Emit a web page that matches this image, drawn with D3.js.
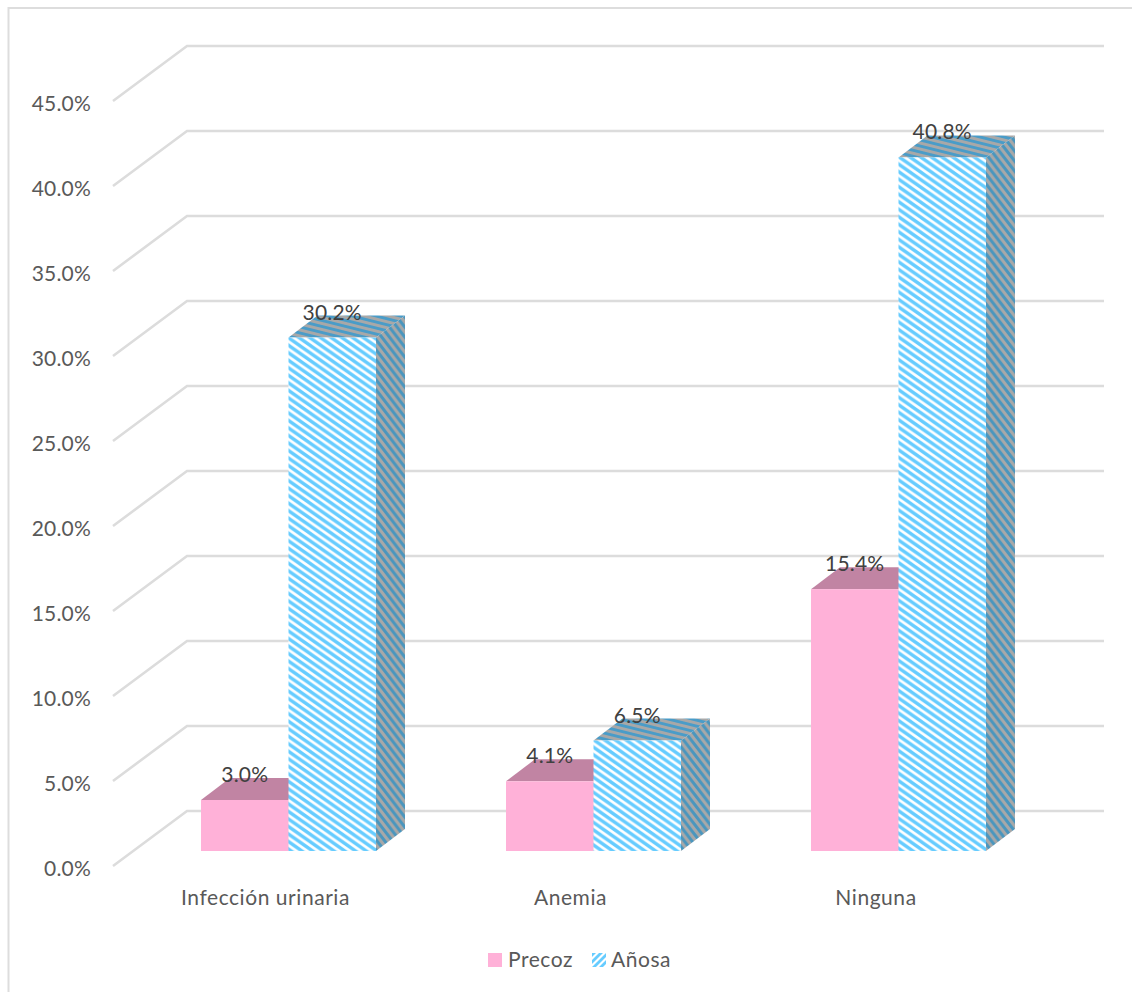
<!DOCTYPE html>
<html><head><meta charset="utf-8">
<script src="https://cdn.jsdelivr.net/npm/d3@7"></script>
<style>html,body{margin:0;padding:0;background:#fff}svg{display:block}text{font-family:Lato,sans-serif}</style>
</head><body><div id="c"></div>
<script>
const categories = ["Infección urinaria","Anemia","Ninguna"];
const seriesNames = ["Precoz","Añosa"];
const precoz = [3.0,4.1,15.4];
const anosa = [30.2,6.5,40.8];
const tickValues = [0,5,10,15,20,25,30,35,40,45];

const W=1132,H=992, depthX=29, depthY=22;
const svg=d3.select("#c").append("svg").attr("width",W).attr("height",H);
const defs=svg.append("defs");
function stripe(id,bg,fg,w,sw,tf){
  const p=defs.append("pattern").attr("id",id).attr("patternUnits","userSpaceOnUse")
    .attr("width",w).attr("height",w).attr("patternTransform",tf||null);
  p.append("rect").attr("width",w).attr("height",w).attr("fill",bg);
  p.append("path").attr("d",`M-2,2L2,-2M0,${w}L${w},0M${w-2},${w+2}L${w+2},${w-2}`)
    .attr("stroke",fg).attr("stroke-width",sw).attr("fill","none");
}
stripe("front","#fff","#66CCFF",8,3.1,"matrix(-1.34,0,0,0.94,0,0)");
stripe("legend","#fff","#66CCFF",7,2.8);
stripe("side","#A8A8A8","#4A96BE",8,2.8,"matrix(-0.96,0,0,1.25,0,0)");
stripe("top","#A8A8A8","#4A9CC8",8,2.8,"matrix(-3,0,0,0.75,0,0)");

svg.append("path").attr("d","M8.5,992V8H1132").attr("fill","none").attr("stroke","#DDDDDD").attr("stroke-width",2);

const yBack=d3.scaleLinear().domain([0,45]).range([811,46]);
const yFront=d3.scaleLinear().domain([0,45]).range([866,101]);
const yBar=d3.scaleLinear().domain([0,45]).range([851,86]);

const grid=svg.append("g").attr("fill","none").attr("stroke","#DCDCDC").attr("stroke-width",2.6);
tickValues.forEach(v=>{
  grid.append("path").attr("d",`M113,${yFront(v)}L187,${yBack(v)}H1104`);
});

const barW=87.5, groupStart=i=>201+305*i;
const fontSize=21;

svg.append("g").selectAll("text").data(tickValues).join("text")
  .attr("x",91).attr("y",v=>yFront(v)+10).attr("text-anchor","end")
  .attr("font-size",fontSize).attr("letter-spacing",0.2).attr("fill","#595959").text(v=>d3.format(".1f")(v)+"%");

function bar(g,x,v,fFront,fTop,fSide){
  const t=yBar(v),b=yBar(0);
  g.append("path").attr("d",`M${x},${t}l${depthX},${-depthY}h${barW}l${-depthX},${depthY}Z`).attr("fill",fTop);
  g.append("path").attr("d",`M${x+barW},${t}l${depthX},${-depthY}V${b-depthY}l${-depthX},${depthY}Z`).attr("fill",fSide);
  g.append("rect").attr("x",x).attr("y",t).attr("width",barW).attr("height",b-t).attr("fill",fFront);
}
const bars=svg.append("g");
categories.forEach((c,i)=>{
  const g=bars.append("g");
  const x=groupStart(i);
  bar(g,x,precoz[i],"#FFB1D8","#C184A3","#C184A3");
  bar(g,x+barW,anosa[i],"url(#front)","url(#top)","url(#side)");
});
const labels=svg.append("g").attr("font-size",fontSize).attr("letter-spacing",0.2).attr("fill","#404040").attr("text-anchor","middle");
categories.forEach((c,i)=>{
  const x=groupStart(i);
  labels.append("text").attr("x",x+barW/2).attr("y",yBar(precoz[i])-18).text(d3.format(".1f")(precoz[i])+"%");
  labels.append("text").attr("x",x+barW*1.5).attr("y",yBar(anosa[i])-18).text(d3.format(".1f")(anosa[i])+"%");
});
svg.append("g").selectAll("text").data(categories).join("text")
  .attr("x",(d,i)=>[265.5,570.5,876][i]).attr("y",905).attr("text-anchor","middle")
  .attr("font-size",fontSize).attr("letter-spacing",0.55).attr("fill","#595959").text(d=>d);

const lg=svg.append("g").attr("font-size",fontSize).attr("letter-spacing",0.55).attr("fill","#595959");
lg.append("rect").attr("x",488).attr("y",953).attr("width",14).attr("height",14).attr("fill","#FFB1D8");
lg.append("text").attr("x",508).attr("y",967).text(seriesNames[0]);
lg.append("rect").attr("x",592).attr("y",953).attr("width",14).attr("height",14).attr("fill","url(#legend)");
lg.append("text").attr("x",611).attr("y",967).text(seriesNames[1]);
</script></body></html>
